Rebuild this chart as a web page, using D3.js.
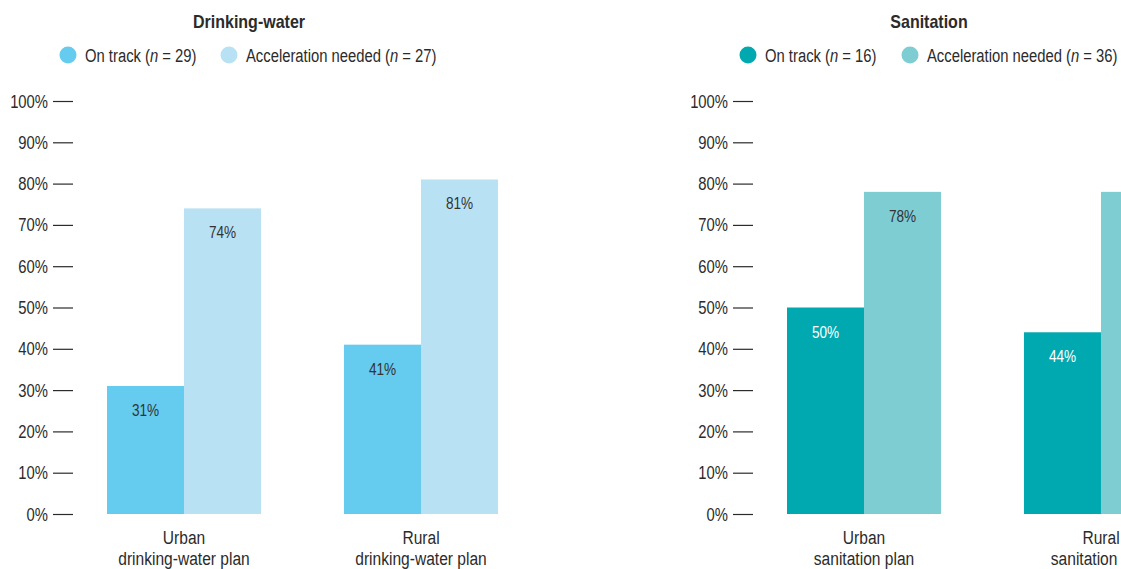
<!DOCTYPE html>
<html>
<head>
<meta charset="utf-8">
<script src="https://cdn.jsdelivr.net/npm/d3@7"></script>
<style>
  html, body { margin: 0; padding: 0; background: #fff; }
  svg { display: block; font-family: "Liberation Sans Narrow", "Arial Narrow", "Liberation Sans", sans-serif; }
  text { white-space: pre; }
</style>
</head>
<body>
<svg id="chart" width="1121" height="569"></svg>
<script>
// ---- data ----
const panelTitles = ["Drinking-water", "Sanitation"];
const seriesNames = ["On track", "Acceleration needed"];
const waterN = [29, 27];
const sanitationN = [16, 36];
const waterCategories = [["Urban", "drinking-water plan"], ["Rural", "drinking-water plan"]];
const sanitationCategories = [["Urban", "sanitation plan"], ["Rural", "sanitation plan"]];
const waterOnTrack = [31, 41];
const waterAcceleration = [74, 81];
const sanitationOnTrack = [50, 44];
const sanitationAcceleration = [78, 78];
const tickValues = [0, 10, 20, 30, 40, 50, 60, 70, 80, 90, 100];

const waterColors = ["#65cbef", "#b8e2f4"];
const sanitationColors = ["#00a9b0", "#7dcdd3"];
const waterLabelColors = ["#333333", "#333333"];
const sanitationLabelColors = ["#ffffff", "#333333"];

const svg = d3.select("#chart");
const textColor = "#2b2b2b";

// text drawn through a horizontal squeeze to mimic a condensed face
function ctext(parent, x, y, str, opt) {
  const f = opt.f || 0.8;
  const t = parent.append("text")
    .attr("transform", `translate(${x},${y}) scale(${f},1)`)
    .attr("text-anchor", opt.anchor || "start")
    .attr("font-size", opt.size || 19)
    .attr("font-weight", opt.weight || "normal")
    .attr("font-style", opt.style || "normal")
    .attr("fill", opt.fill || textColor)
    .text(str);
  return t.node().getComputedTextLength() * f;
}

const y = d3.scaleLinear().domain([0, 100]).range([514, 101]);

function panel(opts) {
  const g = svg.append("g");
  const cats = opts.categories.map(c => c.join(" "));
  const x = d3.scaleBand().domain(cats).range([opts.x0, opts.x0 + 391]).paddingInner(0.35).paddingOuter(0);
  const xs = d3.scaleBand().domain(seriesNames).range([0, x.bandwidth()]);

  // title
  ctext(g, opts.titleX, 28, opts.title, { f: 0.89, anchor: "middle", size: 18, weight: "bold" });

  // legend (pieces laid out one after another)
  opts.legendX.forEach((lx, i) => {
    g.append("circle").attr("cx", lx).attr("cy", 55).attr("r", 8.5).attr("fill", opts.colors[i]);
    let cx = lx + 17;
    cx += ctext(g, cx, 62, seriesNames[i] + " (", { f: 0.78 });
    cx += ctext(g, cx, 62, "n", { f: 0.78, style: "italic" });
    ctext(g, cx, 62, " = " + opts.n[i] + ")", { f: 0.78 });
  });

  // axis
  const axis = d3.axisLeft(y).tickValues(tickValues).tickSize(20).tickPadding(5)
    .tickFormat(d => d + "%");
  const ag = g.append("g").attr("transform", `translate(${opts.axisX},0)`).call(axis);
  ag.select(".domain").remove();
  ag.selectAll(".tick line").attr("stroke", textColor).attr("stroke-width", 1.2);
  ag.selectAll(".tick text")
    .attr("x", null)
    .attr("transform", "translate(-25,0) scale(0.78,1)")
    .attr("font-size", 19).attr("fill", textColor)
    .attr("font-family", "Liberation Sans Narrow, Arial Narrow, Liberation Sans, sans-serif");

  // bars
  const rows = cats.map((c, i) => ({ cat: c, vals: [opts.onTrack[i], opts.accel[i]] }));
  rows.forEach(r => {
    r.vals.forEach((v, si) => {
      const bx = x(r.cat) + xs(seriesNames[si]);
      g.append("rect").attr("x", bx).attr("y", y(v))
        .attr("width", xs.bandwidth()).attr("height", y(0) - y(v))
        .attr("fill", opts.colors[si]);
      ctext(g, bx + xs.bandwidth() / 2, y(v) + 30, v + "%",
        { f: 0.8, anchor: "middle", size: 17, fill: opts.labelColors[si] });
    });
  });

  // category labels
  opts.categories.forEach((c, i) => {
    const cx = x(cats[i]) + x.bandwidth() / 2;
    c.forEach((line, li) => {
      ctext(g, cx, 544 + li * 21, line, { f: 0.82, anchor: "middle", size: 19 });
    });
  });
}

panel({
  title: panelTitles[0], titleX: 249, legendX: [68, 229], n: waterN,
  categories: waterCategories, onTrack: waterOnTrack, accel: waterAcceleration,
  colors: waterColors, labelColors: waterLabelColors, x0: 107, axisX: 73
});
panel({
  title: panelTitles[1], titleX: 929, legendX: [748, 910], n: sanitationN,
  categories: sanitationCategories, onTrack: sanitationOnTrack, accel: sanitationAcceleration,
  colors: sanitationColors, labelColors: sanitationLabelColors, x0: 787, axisX: 753
});
</script>
</body>
</html>
